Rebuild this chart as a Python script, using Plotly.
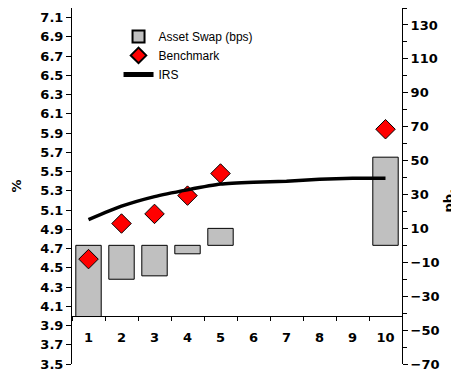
import plotly.graph_objects as go

categories = ["1", "2", "3", "4", "5", "6", "7", "8", "9", "10"]
asset_swap_bps = [-42, -20, -18, -5, 10, None, None, None, None, 52]
benchmark_pct = [4.59, 4.96, 5.06, 5.25, 5.48, None, None, None, None, 5.94]
irs_pct = [5.00, 5.14, 5.24, 5.31, 5.37, 5.39, 5.40, 5.42, 5.43, 5.43]
left_ticks = [round(3.5 + 0.2 * i, 1) for i in range(19)]
right_ticks = list(range(-70, 131, 20))

LEFT_RANGE = [3.5, 7.2]
RIGHT_RANGE = [-70, 140]
X_CROSS = 4.0  # category axis crosses the % axis here

FONT = "DejaVu Sans"
LEG_FONT = "Liberation Sans"
fig = go.Figure()

fig.add_trace(go.Bar(
    x=categories, y=asset_swap_bps, name="Asset Swap (bps)",
    marker=dict(color="#C0C0C0", line=dict(color="black", width=1)),
    yaxis="y", width=0.77,
))
fig.add_trace(go.Scatter(
    x=categories, y=benchmark_pct, name="Benchmark", mode="markers",
    marker=dict(symbol="diamond", size=15, color="#FF0000",
                line=dict(color="black", width=1)),
    yaxis="y2",
))
fig.add_trace(go.Scatter(
    x=categories, y=irs_pct, name="IRS", mode="lines",
    line=dict(color="black", width=3.5, shape="spline", smoothing=0.6),
    yaxis="y2",
))

pos = (X_CROSS - LEFT_RANGE[0]) / (LEFT_RANGE[1] - LEFT_RANGE[0])

fig.update_layout(
    width=459, height=374,
    margin=dict(l=64, r=65, t=0, b=18, autoexpand=False),
    paper_bgcolor="white", plot_bgcolor="white",
    font=dict(family=FONT, color="black"),
    showlegend=True,
    legend=dict(x=0.141, y=0.961, xanchor="left", yanchor="top",
                bgcolor="rgba(0,0,0,0)", font=dict(size=12, family=LEG_FONT),
                tracegroupgap=0, itemsizing="constant"),
    bargap=0.23,
    xaxis=dict(
        type="category", categoryorder="array", categoryarray=categories,
        range=[-0.5, 9.5], anchor="free", position=pos, automargin=False,
        showline=True, linecolor="black", linewidth=1,
        ticks="outside", ticklen=4, tickcolor="black", tickson="boundaries",
        ticklabelstandoff=10,
        tickfont=dict(size=13, family=FONT, weight="bold"),
        showgrid=False, zeroline=False,
    ),
    yaxis=dict(
        side="right", range=RIGHT_RANGE, tickmode="array", tickvals=right_ticks,
        automargin=False,
        showline=True, linecolor="black", linewidth=1,
        ticks="outside", ticklen=5, tickcolor="black",
        minor=dict(dtick=10, tick0=-70, ticks="outside", ticklen=4, tickcolor="black", showgrid=False),
        tickfont=dict(size=13, family=FONT, weight="bold"),
        showgrid=False, zeroline=False,
    ),
    yaxis2=dict(
        side="left", overlaying="y", range=LEFT_RANGE, tickmode="array",
        tickvals=left_ticks, ticktext=[f"{v:.1f}" for v in left_ticks],
        automargin=False,
        showline=True, linecolor="black", linewidth=1,
        ticks="outside", ticklen=5, tickcolor="black",
        tickfont=dict(size=13, family=FONT, weight="bold"),
        title=dict(text="%", font=dict(size=13, family=FONT, weight="bold")),
        showgrid=False, zeroline=False,
    ),
    annotations=[dict(
        text="pb.", xref="paper", yref="paper", x=1.14, y=0.46,
        xanchor="center", yanchor="middle", textangle=-90, showarrow=False,
        font=dict(size=13, family=FONT, weight="bold"),
    )],
)

fig.write_html("out.html")
